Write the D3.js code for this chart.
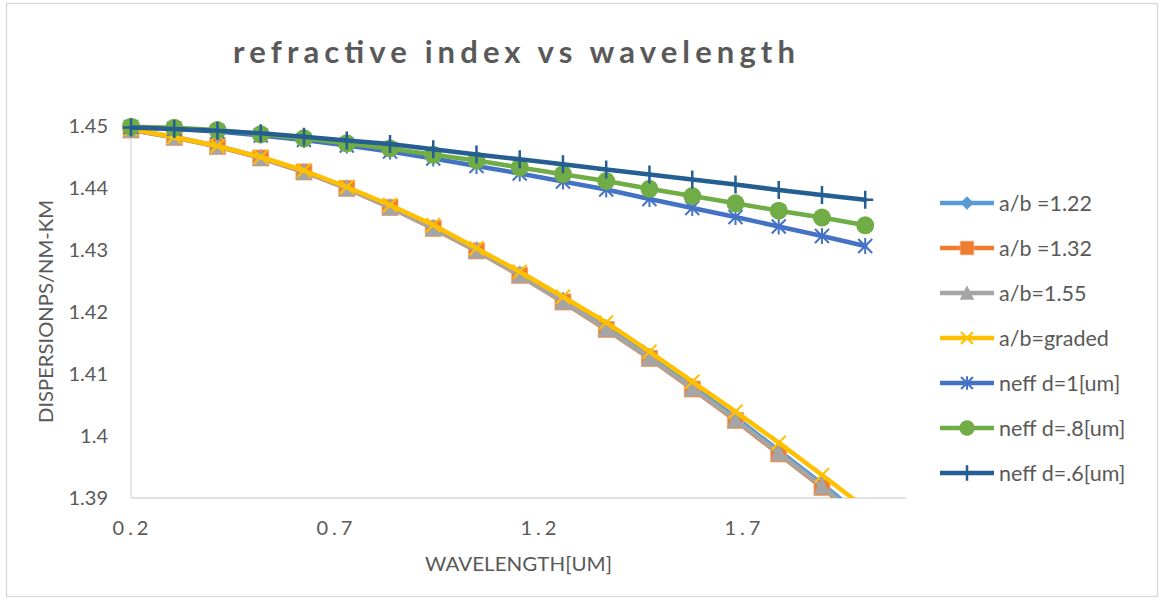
<!DOCTYPE html>
<html>
<head>
<meta charset="utf-8">
<script src="https://cdn.jsdelivr.net/npm/d3@7"></script>
<style>
  html, body { margin: 0; padding: 0; background: #fff; }
  svg { display: block; font-family: Lato, "Open Sans", sans-serif; }
</style>
</head>
<body>
<svg id="chart" width="1159" height="600"></svg>
<script>
// Wavelength samples (um)
const wavelength = [0.2, 0.306, 0.412, 0.518, 0.624, 0.729, 0.835, 0.941, 1.047, 1.153,
                    1.259, 1.365, 1.471, 1.576, 1.682, 1.788, 1.894, 2.0];

// Effective index per structure
const ab122 = [1.44940, 1.44822, 1.44678, 1.44496, 1.44273, 1.44010, 1.43706, 1.43372, 1.43013, 1.42622,
               1.42198, 1.41758, 1.41294, 1.40806, 1.40302, 1.39765, 1.39228, 1.38660];
const ab132 = [1.44935, 1.44815, 1.44669, 1.44484, 1.44258, 1.43992, 1.43685, 1.43347, 1.42984, 1.42589,
               1.42161, 1.41718, 1.41250, 1.40758, 1.40250, 1.39710, 1.39169, 1.38597];
const ab155 = [1.44938, 1.44818, 1.44672, 1.44488, 1.44262, 1.43997, 1.43690, 1.43353, 1.42991, 1.42597,
               1.42170, 1.41728, 1.41261, 1.40770, 1.40263, 1.39724, 1.39184, 1.38613];
const abGraded = [1.44952, 1.44823, 1.44677, 1.44500, 1.44282, 1.44016, 1.43726, 1.43403, 1.43027, 1.42650,
                  1.42247, 1.41831, 1.41360, 1.40876, 1.40392, 1.39892, 1.39371, 1.38839];
const neffD1 = [1.44984, 1.44952, 1.44911, 1.44847, 1.44774, 1.44685, 1.44589, 1.44476, 1.44355, 1.44234,
                1.44105, 1.43976, 1.43823, 1.43677, 1.43532, 1.43379, 1.43226, 1.43065];
const neffD08 = [1.44989, 1.44973, 1.44935, 1.44866, 1.44802, 1.44721, 1.44637, 1.44535, 1.44444, 1.44331,
                 1.44223, 1.44113, 1.43987, 1.43871, 1.43753, 1.43634, 1.43524, 1.43398];
const neffD06 = [1.44976, 1.44952, 1.44924, 1.44882, 1.44827, 1.44766, 1.44710, 1.44624, 1.44540, 1.44463,
                 1.44382, 1.44298, 1.44218, 1.44137, 1.44056, 1.43968, 1.43887, 1.43811];

const seriesNames = ["a/b =1.22", "a/b =1.32", "a/b=1.55", "a/b=graded",
                     "neff d=1[um]", "neff d=.8[um]", "neff d=.6[um]"];
const xTicks = [0.2, 0.7, 1.2, 1.7];
const xTickLabels = ["0.2", "0.7", "1.2", "1.7"];
const yTicks = [1.39, 1.40, 1.41, 1.42, 1.43, 1.44, 1.45];
const yTickLabels = ["1.39", "1.4", "1.41", "1.42", "1.43", "1.44", "1.45"];

const series = [
  { name: seriesNames[0], values: ab122,    color: "#5B9BD5", marker: "diamond" },
  { name: seriesNames[1], values: ab132,    color: "#ED7D31", marker: "square" },
  { name: seriesNames[2], values: ab155,    color: "#A5A5A5", marker: "triangle" },
  { name: seriesNames[3], values: abGraded, color: "#FFC000", marker: "x" },
  { name: seriesNames[4], values: neffD1,   color: "#4472C4", marker: "star" },
  { name: seriesNames[5], values: neffD08,  color: "#70AD47", marker: "circle" },
  { name: seriesNames[6], values: neffD06,  color: "#255E91", marker: "plus" }
];

const svg = d3.select("#chart");
const textColor = "#595959";
const axisColor = "#D9D9D9";

// Chart frame
svg.append("rect")
  .attr("x", 6.5).attr("y", 3.5).attr("width", 1151).attr("height", 593)
  .attr("fill", "#fff").attr("stroke", axisColor).attr("stroke-width", 1.3);

const plot = { left: 131, right: 906, top: 126, bottom: 498 };

const x = d3.scaleLinear().domain([0.2, 2.1]).range([plot.left, plot.right]);
const y = d3.scaleLinear().domain([1.39, 1.45]).range([plot.bottom, plot.top]);

// Title
svg.append("text")
  .attr("x", 233).attr("y", 63)
  .attr("textLength", 562).attr("lengthAdjust", "spacing")
  .attr("font-size", 31).attr("font-weight", "bold")
  .attr("fill", textColor)
  .text("refractive index vs wavelength");

// Axis lines
svg.append("line")
  .attr("x1", plot.left).attr("x2", plot.left)
  .attr("y1", plot.top).attr("y2", plot.bottom)
  .attr("stroke", axisColor).attr("stroke-width", 1.3);
svg.append("line")
  .attr("x1", plot.left).attr("x2", plot.right)
  .attr("y1", plot.bottom).attr("y2", plot.bottom)
  .attr("stroke", axisColor).attr("stroke-width", 1.3);

// Y tick labels
const yAxis = d3.axisLeft(y).tickValues(yTicks)
  .tickFormat((d, i) => yTickLabels[i]).tickSize(0).tickPadding(23);
const gy = svg.append("g").attr("transform", `translate(${plot.left},0)`).call(yAxis);
gy.select(".domain").remove();
gy.selectAll("text").attr("font-family", "Lato, sans-serif")
  .attr("font-size", 20).attr("fill", textColor);

// X tick labels (letter-spaced)
const xAxis = d3.axisBottom(x).tickValues(xTicks)
  .tickFormat((d, i) => xTickLabels[i]).tickSize(0).tickPadding(23);
const gx = svg.append("g").attr("transform", `translate(0,${plot.bottom})`).call(xAxis);
gx.select(".domain").remove();
gx.selectAll("text").attr("font-family", "Lato, sans-serif")
  .attr("font-size", 20).attr("fill", textColor)
  .attr("letter-spacing", "4px").attr("dx", "1px");

// Axis titles
svg.append("text")
  .attr("x", 425).attr("y", 571)
  .attr("textLength", 187).attr("lengthAdjust", "spacingAndGlyphs")
  .attr("font-size", 20).attr("fill", textColor)
  .text("WAVELENGTH[UM]");
svg.append("text")
  .attr("transform", "translate(53,423) rotate(-90)")
  .attr("textLength", 223).attr("lengthAdjust", "spacingAndGlyphs")
  .attr("font-size", 20).attr("fill", textColor)
  .text("DISPERSIONPS/NM-KM");

// Marker drawing
function drawMarker(g, type, color, cx, cy, s) {
  const k = s || 1;
  switch (type) {
    case "diamond":
      g.append("path").attr("d", `M${cx},${cy - 8 * k}L${cx + 8 * k},${cy}L${cx},${cy + 8 * k}L${cx - 8 * k},${cy}Z`)
        .attr("fill", color);
      break;
    case "square":
      g.append("rect").attr("x", cx - 8 * k).attr("y", cy - 8 * k)
        .attr("width", 16 * k).attr("height", 16 * k)
        .attr("fill", color).attr("stroke", "#F4A46E").attr("stroke-width", 0.8);
      break;
    case "triangle":
      g.append("path").attr("d", `M${cx},${cy - 9 * k}L${cx + 8.5 * k},${cy + 8 * k}L${cx - 8.5 * k},${cy + 8 * k}Z`)
        .attr("fill", color);
      break;
    case "x":
      g.append("path").attr("d",
        `M${cx - 7 * k},${cy - 7 * k}L${cx + 7 * k},${cy + 7 * k}M${cx - 7 * k},${cy + 7 * k}L${cx + 7 * k},${cy - 7 * k}`)
        .attr("stroke", color).attr("stroke-width", 2).attr("fill", "none");
      break;
    case "star":
      g.append("path").attr("d",
        `M${cx - 7 * k},${cy - 7 * k}L${cx + 7 * k},${cy + 7 * k}M${cx - 7 * k},${cy + 7 * k}L${cx + 7 * k},${cy - 7 * k}` +
        `M${cx},${cy - 8 * k}L${cx},${cy + 8 * k}`)
        .attr("stroke", color).attr("stroke-width", 2).attr("fill", "none");
      break;
    case "circle":
      g.append("circle").attr("cx", cx).attr("cy", cy).attr("r", 9 * k).attr("fill", color);
      break;
    case "plus":
      g.append("path").attr("d",
        `M${cx},${cy - 9 * k}L${cx},${cy + 9 * k}M${cx - 8 * k},${cy}L${cx + 8 * k},${cy}`)
        .attr("stroke", color).attr("stroke-width", 2.5).attr("fill", "none");
      break;
  }
}

// Plot area clip (bottom edge clips the falling curves)
svg.append("defs").append("clipPath").attr("id", "plotClip")
  .append("rect").attr("x", 0).attr("y", 0).attr("width", 1159).attr("height", plot.bottom);

const plotG = svg.append("g").attr("clip-path", "url(#plotClip)");
const line = d3.line().x(d => x(d[0])).y(d => y(d[1]));

series.forEach(s => {
  const pts = wavelength.map((w, i) => [w, s.values[i]]);
  const g = plotG.append("g");
  g.append("path").attr("d", line(pts))
    .attr("fill", "none").attr("stroke", s.color)
    .attr("stroke-width", 4.5).attr("stroke-linejoin", "round").attr("stroke-linecap", "round");
  pts.forEach(p => drawMarker(g, s.marker, s.color, x(p[0]), y(p[1])));
});

// Legend
const legendY = d3.scalePoint().domain(seriesNames).range([203, 473]);
const legend = svg.append("g");
series.forEach(s => {
  const ly = legendY(s.name);
  legend.append("line").attr("x1", 940).attr("x2", 994).attr("y1", ly).attr("y2", ly)
    .attr("stroke", s.color).attr("stroke-width", 4.5);
  drawMarker(legend, s.marker, s.color, 967, ly, 0.85);
  legend.append("text").attr("x", 999).attr("y", ly).attr("dy", "0.35em")
    .attr("font-size", 21.5).attr("fill", textColor).text(s.name);
});
</script>
</body>
</html>
